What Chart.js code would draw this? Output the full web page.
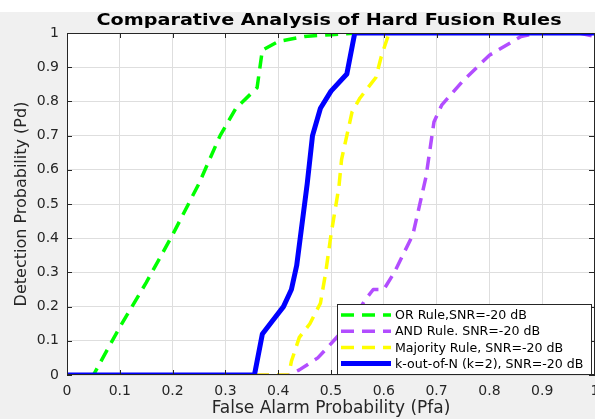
<!DOCTYPE html>
<html>
<head>
<meta charset="utf-8">
<title>Comparative Analysis of Hard Fusion Rules</title>
<script src="https://cdn.jsdelivr.net/npm/chart.js@4.4.1/dist/chart.umd.min.js"></script>
<style>
  html, body { margin: 0; padding: 0; background: #f0f0f0; }
</style>
</head>
<body>
<canvas id="rocChart" width="595" height="419"></canvas>
<script>
'use strict';

// values (Pfa -> Pd)
var orPfa  = [0, 0.05, 0.10, 0.15, 0.20, 0.25, 0.29, 0.32, 0.36, 0.37, 0.40, 0.45, 0.50, 0.55, 1];
var orPd   = [0, 0, 0.14, 0.27, 0.41, 0.56, 0.70, 0.78, 0.84, 0.95, 0.975, 0.99, 0.995, 1, 1];

var andPfa = [0, 0.42, 0.44, 0.475, 0.505, 0.54, 0.565, 0.58, 0.60, 0.62, 0.655, 0.68, 0.695, 0.71, 0.75, 0.80, 0.86, 0.89, 0.97, 1];
var andPd  = [0, 0, 0.015, 0.05, 0.10, 0.16, 0.22, 0.25, 0.25, 0.30, 0.41, 0.58, 0.74, 0.79, 0.86, 0.935, 0.99, 1, 1, 0.99];

var majPfa = [0, 0.42, 0.425, 0.44, 0.46, 0.48, 0.49, 0.50, 0.515, 0.52, 0.54, 0.555, 0.585, 0.595, 0.61, 1];
var majPd  = [0, 0, 0.04, 0.11, 0.15, 0.21, 0.30, 0.41, 0.55, 0.63, 0.77, 0.81, 0.87, 0.93, 1, 1];

var kPfa   = [0, 0.355, 0.37, 0.39, 0.41, 0.425, 0.435, 0.445, 0.455, 0.465, 0.48, 0.50, 0.53, 0.545, 1];
var kPd    = [0, 0, 0.12, 0.16, 0.20, 0.25, 0.32, 0.44, 0.56, 0.70, 0.78, 0.83, 0.88, 1, 1];

var seriesLabels = [
    'OR Rule,SNR=-20 dB',
    'AND Rule. SNR=-20 dB',
    'Majority Rule, SNR=-20 dB',
    'k-out-of-N (k=2), SNR=-20 dB'
];

var chartTitle = 'Comparative Analysis of Hard Fusion Rules';

function toPoints(xs, ys) {
    return xs.map(function (x, i) { return { x: x, y: ys[i] }; });
}

function tickText(v) {
    return String(Number(v.toFixed(1)));
}

var axisFont = 'DejaVu Sans, Arial, sans-serif';

// figure background, axes box with inner ticks, title and legend
var frame = {
    id: 'frame',
    beforeDraw: function (chart) {
        var c = chart.ctx, a = chart.chartArea;
        c.save();
        c.fillStyle = '#f0f0f0';
        c.fillRect(0, 0, chart.width, chart.height);
        c.fillStyle = '#ffffff';
        c.fillRect(0, 0, chart.width, 12);
        c.fillRect(a.left, a.top, a.right - a.left, a.bottom - a.top);
        c.restore();
    },
    afterDatasetsDraw: function (chart) {
        var c = chart.ctx, a = chart.chartArea;
        var xs = chart.scales.x, ys = chart.scales.y;
        c.save();
        c.strokeStyle = '#262626';
        c.lineWidth = 1;
        c.beginPath();
        for (var v = 0; v <= 10; v++) {
            var px = Math.round(xs.getPixelForValue(v / 10)) + 0.5;
            var py = Math.round(ys.getPixelForValue(v / 10)) + 0.5;
            c.moveTo(px, a.bottom); c.lineTo(px, a.bottom - 5);
            c.moveTo(px, a.top); c.lineTo(px, a.top + 5);
            c.moveTo(a.left, py); c.lineTo(a.left + 5, py);
            c.moveTo(a.right, py); c.lineTo(a.right - 6, py);
        }
        c.stroke();
        c.strokeRect(a.left + 0.5, a.top + 0.5, a.right - a.left - 1, a.bottom - a.top - 1);
        c.restore();
    },
    afterDraw: function (chart) {
        var c = chart.ctx, a = chart.chartArea;

        // title, a little wider than the plain font like the original figure
        c.save();
        c.fillStyle = '#000000';
        c.font = 'bold 16px ' + axisFont;
        c.textAlign = 'center';
        c.textBaseline = 'alphabetic';
        c.translate((a.left + a.right) / 2 - 2, 25);
        c.scale(1.2, 1);
        c.fillText(chartTitle, 0, 0);
        c.restore();

        // legend box, lower right inside the axes
        var w = 255, h = 71;
        var left = a.right - 3 - w, top = a.bottom - h;
        c.save();
        c.fillStyle = '#ffffff';
        c.fillRect(left, top, w, h);
        c.strokeStyle = '#262626';
        c.lineWidth = 1;
        c.strokeRect(left + 0.5, top + 0.5, w - 1, h - 1);
        c.font = '12.6px ' + axisFont;
        c.textBaseline = 'middle';
        chart.data.datasets.forEach(function (ds, i) {
            var y = top + 11 + i * 16.2;
            c.strokeStyle = ds.borderColor;
            c.lineWidth = ds.borderWidth;
            c.setLineDash(ds.borderDash || []);
            c.beginPath();
            c.moveTo(left + 4, y);
            c.lineTo(left + 54, y);
            c.stroke();
            c.setLineDash([]);
            c.fillStyle = '#000000';
            c.fillText(ds.label, left + 58, y + 1);
        });
        c.restore();
    }
};

var ctx = document.getElementById('rocChart').getContext('2d');
var rocChart = new Chart(ctx, {
    type: 'line',
    data: {
        datasets: [{
            label: seriesLabels[0],
            data: toPoints(orPfa, orPd),
            borderColor: '#00ff00',
            borderWidth: 3.5,
            borderDash: [13, 8],
            order: 2
        }, {
            label: seriesLabels[1],
            data: toPoints(andPfa, andPd),
            borderColor: '#b24dff',
            borderWidth: 3.5,
            borderDash: [13, 8],
            order: 3
        }, {
            label: seriesLabels[2],
            data: toPoints(majPfa, majPd),
            borderColor: '#ffff00',
            borderWidth: 3.5,
            borderDash: [13, 8],
            order: 1
        }, {
            label: seriesLabels[3],
            data: toPoints(kPfa, kPd),
            borderColor: '#0000ff',
            borderWidth: 5,
            order: 0
        }]
    },
    options: {
        responsive: false,
        devicePixelRatio: 1,
        animation: false,
        layout: { padding: { left: 0, right: 0, top: 33, bottom: 0 } },
        elements: {
            point: { radius: 0 },
            line: { tension: 0, fill: false, borderJoinStyle: 'round' }
        },
        plugins: {
            legend: { display: false },
            tooltip: { enabled: false },
            title: { display: false }
        },
        scales: {
            x: {
                type: 'linear',
                min: 0,
                max: 1,
                afterFit: function (s) { s.height = 44; s.paddingLeft = 0; s.paddingRight = 0; },
                border: { display: false },
                grid: { color: '#dedede', drawTicks: false },
                ticks: {
                    stepSize: 0.1,
                    padding: 8,
                    maxRotation: 0,
                    color: '#262626',
                    font: { family: axisFont, size: 14 },
                    callback: tickText
                },
                title: {
                    display: true,
                    text: 'False Alarm Probability (Pfa)',
                    color: '#262626',
                    font: { family: axisFont, size: 17, lineHeight: 1.2 },
                    padding: { top: 0, bottom: 0 }
                }
            },
            y: {
                type: 'linear',
                min: 0,
                max: 1,
                afterFit: function (s) { s.width = 67; s.paddingTop = 0; s.paddingBottom = 0; },
                border: { display: false },
                grid: { color: '#dedede', drawTicks: false },
                ticks: {
                    stepSize: 0.1,
                    padding: 8,
                    color: '#262626',
                    font: { family: axisFont, size: 14 },
                    callback: tickText
                },
                title: {
                    display: true,
                    text: 'Detection Probability (Pd)',
                    color: '#262626',
                    font: { family: axisFont, size: 16, lineHeight: 1.2 },
                    padding: { top: 12, bottom: 0 }
                }
            }
        }
    },
    plugins: [frame]
});
</script>
</body>
</html>
